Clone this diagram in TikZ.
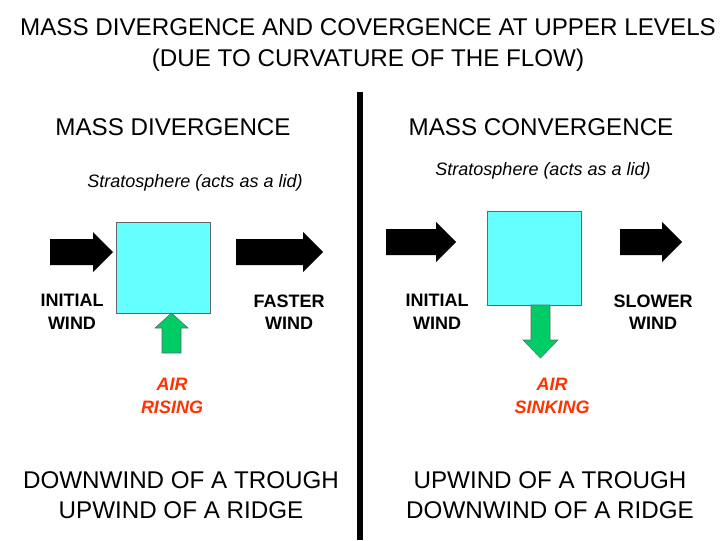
\documentclass[tikz,border=0pt]{standalone}
\usepackage{fontspec}
\setmainfont{Liberation Sans}
\definecolor{boxcyan}{HTML}{66FFFF}
\definecolor{upgreen}{HTML}{00CC66}
\definecolor{airred}{HTML}{FF3300}
% horizontal block arrow: x start, x end, y centre
\newcommand{\windarrow}[3]{%
  \fill[black] (#1,#3-13) -- (#2-20,#3-13) -- (#2-20,#3-20) -- (#2,#3) -- (#2-20,#3+20)
    -- (#2-20,#3+13) -- (#1,#3+13) -- cycle;}
\begin{document}
\begin{tikzpicture}[x=0.025cm,y=-0.025cm,
	big/.style={font=\fontsize{17.2}{21.5}\selectfont, align=center},
	lid/.style={font=\fontsize{12.8}{15}\itshape},
	windlabel/.style={font=\fontsize{12.8}{16}\bfseries, align=center},
	airlabel/.style={font=\fontsize{12.8}{16}\bfseries\itshape, align=center, text=airred},
	lidbox/.style={fill=boxcyan, draw=black!60, thin}]
	\useasboundingbox (0,0) rectangle (720,540);
	\node[big] (title) at (368,45) {MASS DIVERGENCE AND COVERGENCE AT UPPER LEVELS\\(DUE TO CURVATURE OF THE FLOW)};
	\fill[black] (357,92) rectangle (363,540);
	% divergence side
	\node[big] (divhead) at (173,127) {MASS DIVERGENCE};
	\node[lid] (divlid) at (195,183) {Stratosphere (acts as a lid)};
	\draw[lidbox] (116,222) rectangle (210,313);
	\windarrow{50}{113}{252}
	\windarrow{236}{323}{252}
	\fill[upgreen, draw=black!60] (162,353) -- (162,328) -- (155,328) -- (171.5,313) -- (188,328)
		-- (181,328) -- (181,353) -- cycle;
	\node[windlabel] (divinit) at (72,312) {INITIAL\\WIND};
	\node[windlabel] (divfast) at (289,312) {FASTER\\WIND};
	\node[airlabel] (rising) at (172,396) {AIR\\RISING};
	\node[big] (divfoot) at (181,495) {DOWNWIND OF A TROUGH\\UPWIND OF A RIDGE};
	% convergence side
	\node[big] (conhead) at (541,127) {MASS CONVERGENCE};
	\node[lid] (conlid) at (543,171) {Stratosphere (acts as a lid)};
	\draw[lidbox] (487,211) rectangle (581,305);
	\windarrow{386}{456}{242}
	\windarrow{620}{682}{242}
	\fill[upgreen, draw=black!60] (531,305) -- (531,340) -- (523,340) -- (540.5,358) -- (558,340)
		-- (550,340) -- (550,305) -- cycle;
	\node[windlabel] (coninit) at (437,312) {INITIAL\\WIND};
	\node[windlabel] (conslow) at (653,312) {SLOWER\\WIND};
	\node[airlabel] (sinking) at (552,396) {AIR\\SINKING};
	\node[big] (confoot) at (550,495) {UPWIND OF A TROUGH\\DOWNWIND OF A RIDGE};
\end{tikzpicture}
\end{document}
